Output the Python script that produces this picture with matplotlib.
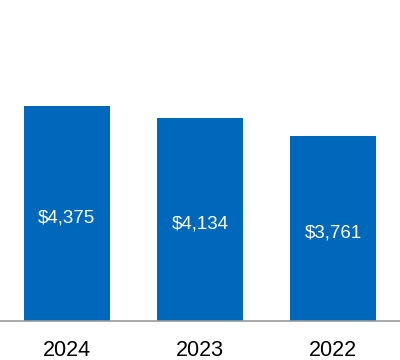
import matplotlib
matplotlib.use("Agg")
import matplotlib.pyplot as plt

years = ["2024", "2023", "2022"]
values = [4375, 4134, 3761]
labels = ["$4,375", "$4,134", "$3,761"]

plt.rcParams['font.family'] = ['Liberation Sans', 'DejaVu Sans']
fig = plt.figure(figsize=(4, 3.6), dpi=100)
ax = fig.add_axes([0, 39/360, 1, 321/360])
x = range(len(years))
bars = ax.bar(x, values, width=0.645, color='#0068BA')
for xi, v, lab in zip(x, values, labels):
    ax.annotate(lab, (xi, v/2), xytext=(0, -3), textcoords='offset points',
                ha='center', va='center', color='white', fontsize=13.5)
ax.set_xlim(-0.5, 2.5)
ax.set_ylim(0, 4375*321/215)
ax.set_xticks(list(x))
ax.set_xticklabels(years, fontsize=15.5)
ax.tick_params(axis='x', length=0, pad=14)
ax.set_yticks([])
for s in ['top', 'right', 'left']:
    ax.spines[s].set_visible(False)
ax.spines['bottom'].set_color('#999999')
ax.spines['bottom'].set_linewidth(1.2)
fig.savefig('out.png', dpi=100)
